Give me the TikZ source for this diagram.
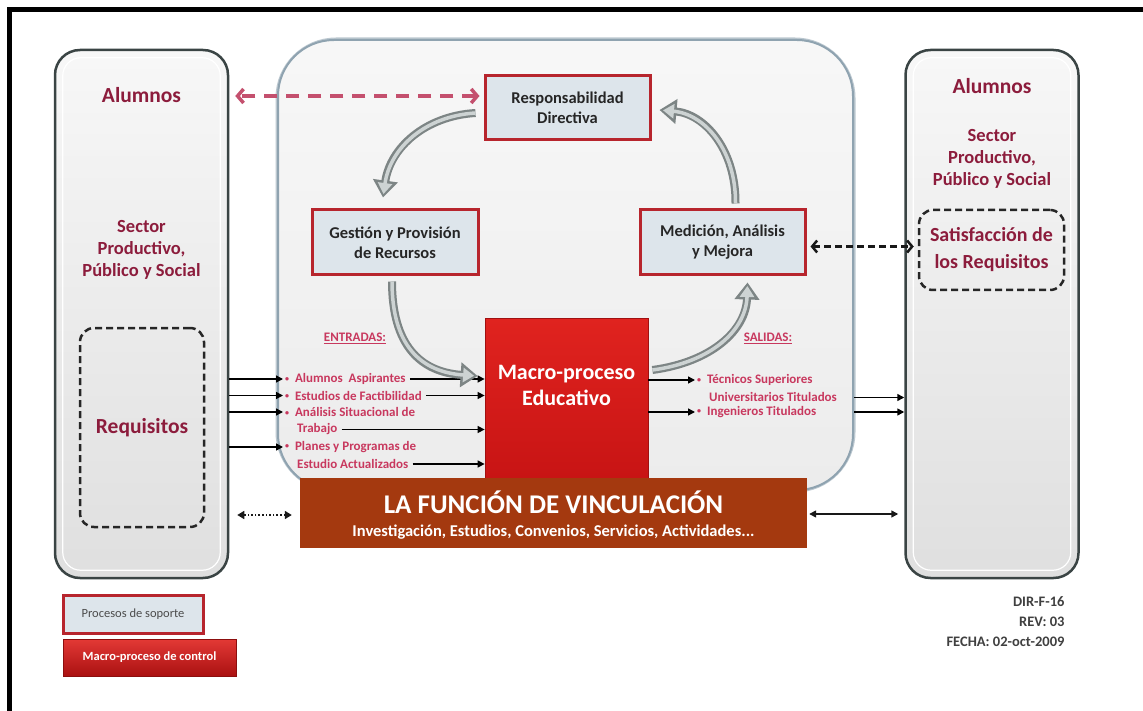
\documentclass[tikz,border=0pt]{standalone}
\usepackage{fontspec}
\setmainfont{Carlito}
\usetikzlibrary{arrows.meta,calc}
\definecolor{maroon}{HTML}{8C1C3C}
\definecolor{pinktx}{HTML}{C8385E}
\definecolor{redbd}{HTML}{B7252D}
\definecolor{boxfill}{HTML}{DDE5EB}
\definecolor{colbd}{HTML}{3A4444}
\definecolor{cbd}{HTML}{8FA3B0}
\definecolor{banner}{HTML}{A4390F}
\definecolor{cycout}{HTML}{7D8585}
\definecolor{cycin}{HTML}{CDD3D3}
\definecolor{pinkarr}{HTML}{C4506E}
\definecolor{macrotop}{HTML}{E0231F}
\definecolor{macrobot}{HTML}{C81414}
\newcommand{\smbul}{\raisebox{1.5pt}{\fontsize{8}{8}\selectfont\textbullet}}
\tikzset{
  column/.style={draw=colbd, line width=2.5pt, rounded corners=25pt, top color=gray!6, bottom color=gray!25, minimum width=173pt, minimum height=528pt},
  proc/.style={draw=redbd, line width=3pt, fill=boxfill, minimum width=165pt, minimum height=64pt, align=center, font=\fontsize{16.5}{20}\selectfont\bfseries, text=black!85},
  dashbox/.style={draw=black!85, line width=2.5pt, dash pattern=on 7pt off 4pt, rounded corners=14pt},
  coltx/.style={text=maroon, font=\fontsize{18.5}{22}\selectfont\bfseries, align=center},
  item/.style={text=pinktx, font=\fontsize{13}{16}\selectfont\bfseries, anchor=west, inner sep=0pt},
  inarrow/.style={black, line width=1.5pt, -{Triangle[length=7pt,width=7pt]}},
  cycouter/.style={cycout, line width=8pt, -{Triangle[length=17pt,width=24pt]}},
  cycinner/.style={cycin, line width=3.5pt, shorten >=3.5pt, -{Triangle[length=11pt,width=14pt]}},
}
\begin{document}
\begin{tikzpicture}[x=1pt,y=-1pt]
\useasboundingbox (0,0) rectangle (1143,711);
\fill[white] (0,0) rectangle (1143,711);
% frame
\fill[black] (7,7) rectangle (1143,12);
\fill[black] (7,7) rectangle (12,711);

% central panel
\node[draw=cbd!60, line width=5pt, rounded corners=58pt, minimum width=575pt, minimum height=450pt] at (565.5,265) {};
\node (cbox) [draw=cbd, line width=2pt, rounded corners=56pt, top color=gray!6, bottom color=gray!15, minimum width=575pt, minimum height=450pt] at (565.5,265) {};

% side columns
\node (lbox) [column] at (141.5,314) {};
\draw[white, line width=1.2pt, rounded corners=18pt] ([xshift=9pt,yshift=-9pt]lbox.north west) rectangle ([xshift=-9pt,yshift=9pt]lbox.south east);
\node (rbox) [column] at (992,314) {};
\draw[white, line width=1.2pt, rounded corners=18pt] ([xshift=9pt,yshift=-9pt]rbox.north west) rectangle ([xshift=-9pt,yshift=9pt]rbox.south east);

% column texts
\node (lal) [coltx, font=\fontsize{21.5}{24}\selectfont\bfseries] at (141.5,95) {Alumnos};
\node (lsec) [coltx] at (141.5,250) {Sector\\Productivo,\\Público y Social};
\node (req) [dashbox, minimum width=124pt, minimum height=199pt, text=maroon, font=\fontsize{21.5}{24}\selectfont\bfseries] at (142,427.5) {Requisitos};
\node (ral) [coltx, font=\fontsize{21.5}{24}\selectfont\bfseries] at (992,86) {Alumnos};
\node (rsec) [coltx] at (992,159) {Sector\\Productivo,\\Público y Social};
\node (sat) [dashbox, minimum width=145pt, minimum height=80pt, text=maroon, align=center, font=\fontsize{20}{27}\selectfont\bfseries] at (991.5,250) {Satisfacción de\\los Requisitos};

% process boxes
\node (resp) [proc] at (567.5,108) {Responsabilidad\\Directiva};
\node (gest) [proc, minimum width=166pt, minimum height=65pt] at (395,242.5) {Gestión y Provisión\\de Recursos};
\node (med) [proc, minimum width=165pt, minimum height=65pt] at (722.5,242.5) {Medición, Análisis\\y Mejora};

% macro process
\node (macro) [draw=macrobot!80!black, line width=0.8pt, top color=macrotop, bottom color=macrobot, minimum width=163pt, minimum height=160pt] at (566.5,398) {};
\node (mtext) [text=white, align=center, font=\fontsize{22}{26}\selectfont\bfseries] at (566.5,385) {Macro-proceso\\Educativo};

% banner
\node (ban) [fill=banner, minimum width=507pt, minimum height=70pt] at (553.5,513) {};
\node (bt1) [text=white, font=\fontsize{27}{30}\selectfont\bfseries] at (553.5,502) {LA FUNCIÓN DE VINCULACIÓN};
\node (bt2) [text=white, font=\fontsize{16.5}{18}\selectfont\bfseries] at (553.5,532) {Investigación, Estudios, Convenios, Servicios, Actividades...};

% entradas
\node (ent) [text=pinktx, font=\fontsize{13}{16}\selectfont\bfseries] at (355,338) {\underline{ENTRADAS:}};
\node (e1) [item] at (285,379) {\smbul\ \ Alumnos\ \ Aspirantes};
\node (e2) [item] at (285,395.5) {\smbul\ \ Estudios de Factibilidad};
\node (e3) [item] at (285,412) {\smbul\ \ Análisis Situacional de};
\node (e3b) [item] at (297,429.5) {Trabajo};
\node (e4) [item] at (285,447) {\smbul\ \ Planes y Programas de};
\node (e4b) [item] at (297,464) {Estudio Actualizados};

\foreach \n in {e1,e2,e3,e4}
  \draw[inarrow] (\n.west -| lbox.east) -- ([xshift=-2pt]\n.west);
\foreach \n in {e1,e2,e3b,e4b}
  \draw[inarrow, shorten <=4pt] (\n.east) -- (\n.east -| macro.west);

% salidas
\node (sal) [text=pinktx, font=\fontsize{13}{16}\selectfont\bfseries] at (768,338) {\underline{SALIDAS:}};
\node (s1) [item] at (697,380) {\smbul\ \ Técnicos Superiores};
\node (s1b) [item] at (709,396.5) {Universitarios Titulados};
\node (s2) [item] at (697,412) {\smbul\ \ Ingenieros Titulados};
\draw[inarrow] (s1.west -| macro.east) -- ([xshift=-2pt]s1.west);
\draw[inarrow] (s2.west -| macro.east) -- ([xshift=-2pt]s2.west);
\draw[inarrow] ([yshift=-1pt]s1b.east -| cbox.east) -- ([yshift=-1pt]s1b.east -| rbox.west);
\draw[inarrow] (s2.east -| cbox.east) -- (s2.east -| rbox.west);

% cycle arrows
\coordinate (a1s) at ($(resp.west)+(-8,5)$);
\coordinate (a1e) at ($(gest.north)+(-12,-11)$);
\coordinate (a2s) at ($(gest.south)+(-3,5)$);
\coordinate (a2e) at ($(macro.west)+(-7,-22)$);
\coordinate (a3s) at ($(macro.east)+(4,-28)$);
\coordinate (a3e) at ($(med.south)+(25,6)$);
\coordinate (a4s) at ($(med.north)+(13,-5)$);
\coordinate (a4e) at ($(resp.east)+(8,2)$);
\foreach \s in {cycouter,cycinner}{
  \draw[\s] (a1s) .. controls (425,116) and (390,148) .. (a1e);
  \draw[\s] (a2s) .. controls (392,345) and (420,372) .. (a2e);
  \draw[\s] (a3s) .. controls (712,362) and (746,330) .. (a3e);
  \draw[\s] (a4s) .. controls (736,150) and (705,114) .. (a4e);
}

% dashed links
\draw[pinkarr, line width=3.5pt, dash pattern=on 13pt off 9pt, {Straight Barb[length=6pt,width=14pt]}-{Straight Barb[length=6pt,width=14pt]}, shorten <=4pt, shorten >=6pt]
  ([yshift=12pt]resp.west) -- ([yshift=12pt]resp.west -| lbox.east);
\draw[black!90, line width=2.5pt, dash pattern=on 7pt off 4pt, {Straight Barb[length=5pt,width=12pt]}-{Straight Barb[length=5pt,width=12pt]}, shorten <=4pt, shorten >=4pt]
  ([yshift=-4pt]med.east) -- ([yshift=-4pt]med.east -| sat.west);
\draw[black!90, line width=1.6pt, dotted, {Triangle[length=7pt,width=8pt]}-{Triangle[length=7pt,width=8pt]}, shorten <=8pt, shorten >=8pt]
  ([yshift=-2pt]ban.west) -- ([yshift=-2pt]ban.west -| lbox.east);
\draw[black!90, line width=1.5pt, {Triangle[length=7pt,width=7pt]}-{Triangle[length=7pt,width=7pt]}, shorten <=2pt, shorten >=6pt]
  ([yshift=-1pt]ban.east) -- ([yshift=-1pt]ban.east -| rbox.west);

% legend
\node (lg1) [draw=redbd, line width=3pt, fill=boxfill, minimum width=140pt, minimum height=38pt, text=black!70, font=\fontsize{12.5}{14}\selectfont] at (133,614) {Procesos de soporte};
\node (lg2) [draw=macrobot!70!black, line width=0.8pt, top color=macrotop!90!white, bottom color=macrobot!85!black, minimum width=173pt, minimum height=37pt, text=white, font=\fontsize{12.5}{14}\selectfont\bfseries] at (149.5,657.5) {Macro-proceso de control};

\node (rev) [anchor=east, align=right, text=black!75, font=\fontsize{14.5}{20}\selectfont\bfseries] at (1068,622) {DIR-F-16\\REV: 03\\FECHA: 02-oct-2009};
\end{tikzpicture}
\end{document}
